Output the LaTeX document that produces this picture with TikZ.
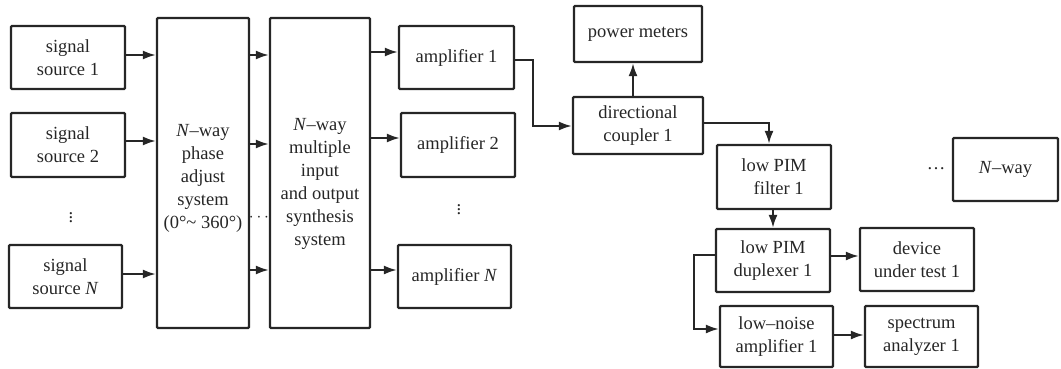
\documentclass[tikz,border=0pt]{standalone}
\usepackage{fontspec}
\setmainfont{Liberation Serif}
\newfontfamily\serifx{Liberation Serif}
\usetikzlibrary{arrows.meta}
\definecolor{ink}{HTML}{262626}
\newcommand{\fs}{\serifx\fontsize{18.5}{23}\selectfont}
\begin{document}
\begin{tikzpicture}[x=1pt,y=-1pt,
  box/.style={draw=ink, line width=2.2pt, rounded corners=1pt, align=center, inner sep=0pt, font=\fs, text=ink},
  arr/.style={draw=ink, line width=2.2pt, -{Latex[length=13pt,width=9pt]}},
  dots/.style={font=\fs, text=ink, inner sep=0pt}]
\useasboundingbox (0,0) rectangle (1061,369);
% sources
\node[box, minimum width=114pt, minimum height=63pt] (src1) at (68,57.5) {signal\\source 1};
\node[box, minimum width=114pt, minimum height=64pt] (src2) at (68,145) {signal\\source 2};
\node[box, minimum width=113pt, minimum height=63pt] (srcN) at (65.5,276.5) {signal\\source \textit{N}};
\node[dots] (vd1) at (71,215) {$\vdots$};
% phase adjust
\node[box, minimum width=92pt, minimum height=310pt] (phase) at (203,173) {};
\node[font=\fs, text=ink, align=center] (phaset) at (203,178) {\textit{N}–way\\phase\\adjust\\system\\(0°\textasciitilde\ 360°)};
% synthesis
\node[box, minimum width=100pt, minimum height=310pt] (synth) at (320,173) {};
\node[font=\fs, text=ink, align=center] (syntht) at (320,184) {\textit{N}–way\\multiple\\input\\and output\\synthesis\\system};
\node[dots] (cd1) at (259,218) {$\cdots$};
% amplifiers
\node[box, minimum width=115pt, minimum height=63pt] (amp1) at (456.5,57.5) {amplifier 1};
\node[box, minimum width=114pt, minimum height=64pt] (amp2) at (458,145) {amplifier 2};
\node[box, minimum width=113pt, minimum height=63pt] (ampN) at (454.5,276.5) {amplifier \textit{N}};
\node[dots] (vd2) at (459,207) {$\vdots$};
% right part
\node[box, minimum width=128pt, minimum height=56pt] (power) at (638,34) {power meters};
\node[box, minimum width=130pt, minimum height=57pt] (coupler) at (638,125.5) {directional\\coupler 1};
\node[box, minimum width=114pt, minimum height=64pt] (filter) at (774,177) {low PIM\\\ \ filter 1};
\node[box, minimum width=105pt, minimum height=63pt] (nway) at (1005.5,169.5) {\textit{N}–way};
\node[dots] (ld1) at (936,169) {\ldots};
\node[box, minimum width=114pt, minimum height=63pt] (dup) at (773,260.5) {low PIM\\duplexer 1};
\node[box, minimum width=114pt, minimum height=63pt] (dut) at (917,259.5) {device\\under test 1};
\node[box, minimum width=113pt, minimum height=61pt] (lna) at (776.5,336.5) {low–noise\\amplifier 1};
\node[box, minimum width=113pt, minimum height=61pt] (sa) at (921.5,336.5) {spectrum\\analyzer 1};
% connectors: sources -> phase
\draw[arr] (src1.east |- 0,55) -- (phase.west |- 0,55);
\draw[arr] (src2.east |- 0,141) -- (phase.west |- 0,141);
\draw[arr] (srcN.east |- 0,274) -- (phase.west |- 0,274);
% phase -> synth
\draw[arr] (phase.east |- 0,55) -- (synth.west |- 0,55);
\draw[arr] (phase.east |- 0,144) -- (synth.west |- 0,144);
\draw[arr] (phase.east |- 0,270) -- (synth.west |- 0,270);
% synth -> amps
\draw[arr] (synth.east |- 0,52) -- (amp1.west |- 0,52);
\draw[arr] (synth.east |- 0,138) -- (amp2.west |- 0,138);
\draw[arr] (synth.east |- 0,270) -- (ampN.west |- 0,270);
% amp1 -> coupler
\coordinate (b1) at (533,60);
\draw[arr] (amp1.east |- b1) -- (b1) |- (coupler.west |- 0,126);
% coupler -> power
\draw[arr] (coupler.north -| 633,0) -- (power.south -| 633,0);
% coupler -> filter
\draw[arr] (coupler.east |- 0,123) -| (filter.north -| 769,0);
% filter -> dup
\draw[arr] (filter.south -| 773,0) -- (dup.north -| 773,0);
% dup -> dut
\draw[arr] (dup.east |- 0,256) -- (dut.west |- 0,256);
% dup -> lna
\coordinate (b2) at (694,255);
\draw[arr] (dup.west |- b2) -- (b2) |- (lna.west |- 0,329);
% lna -> sa
\draw[arr] (lna.east |- 0,335) -- (sa.west |- 0,335);
\end{tikzpicture}
\end{document}
